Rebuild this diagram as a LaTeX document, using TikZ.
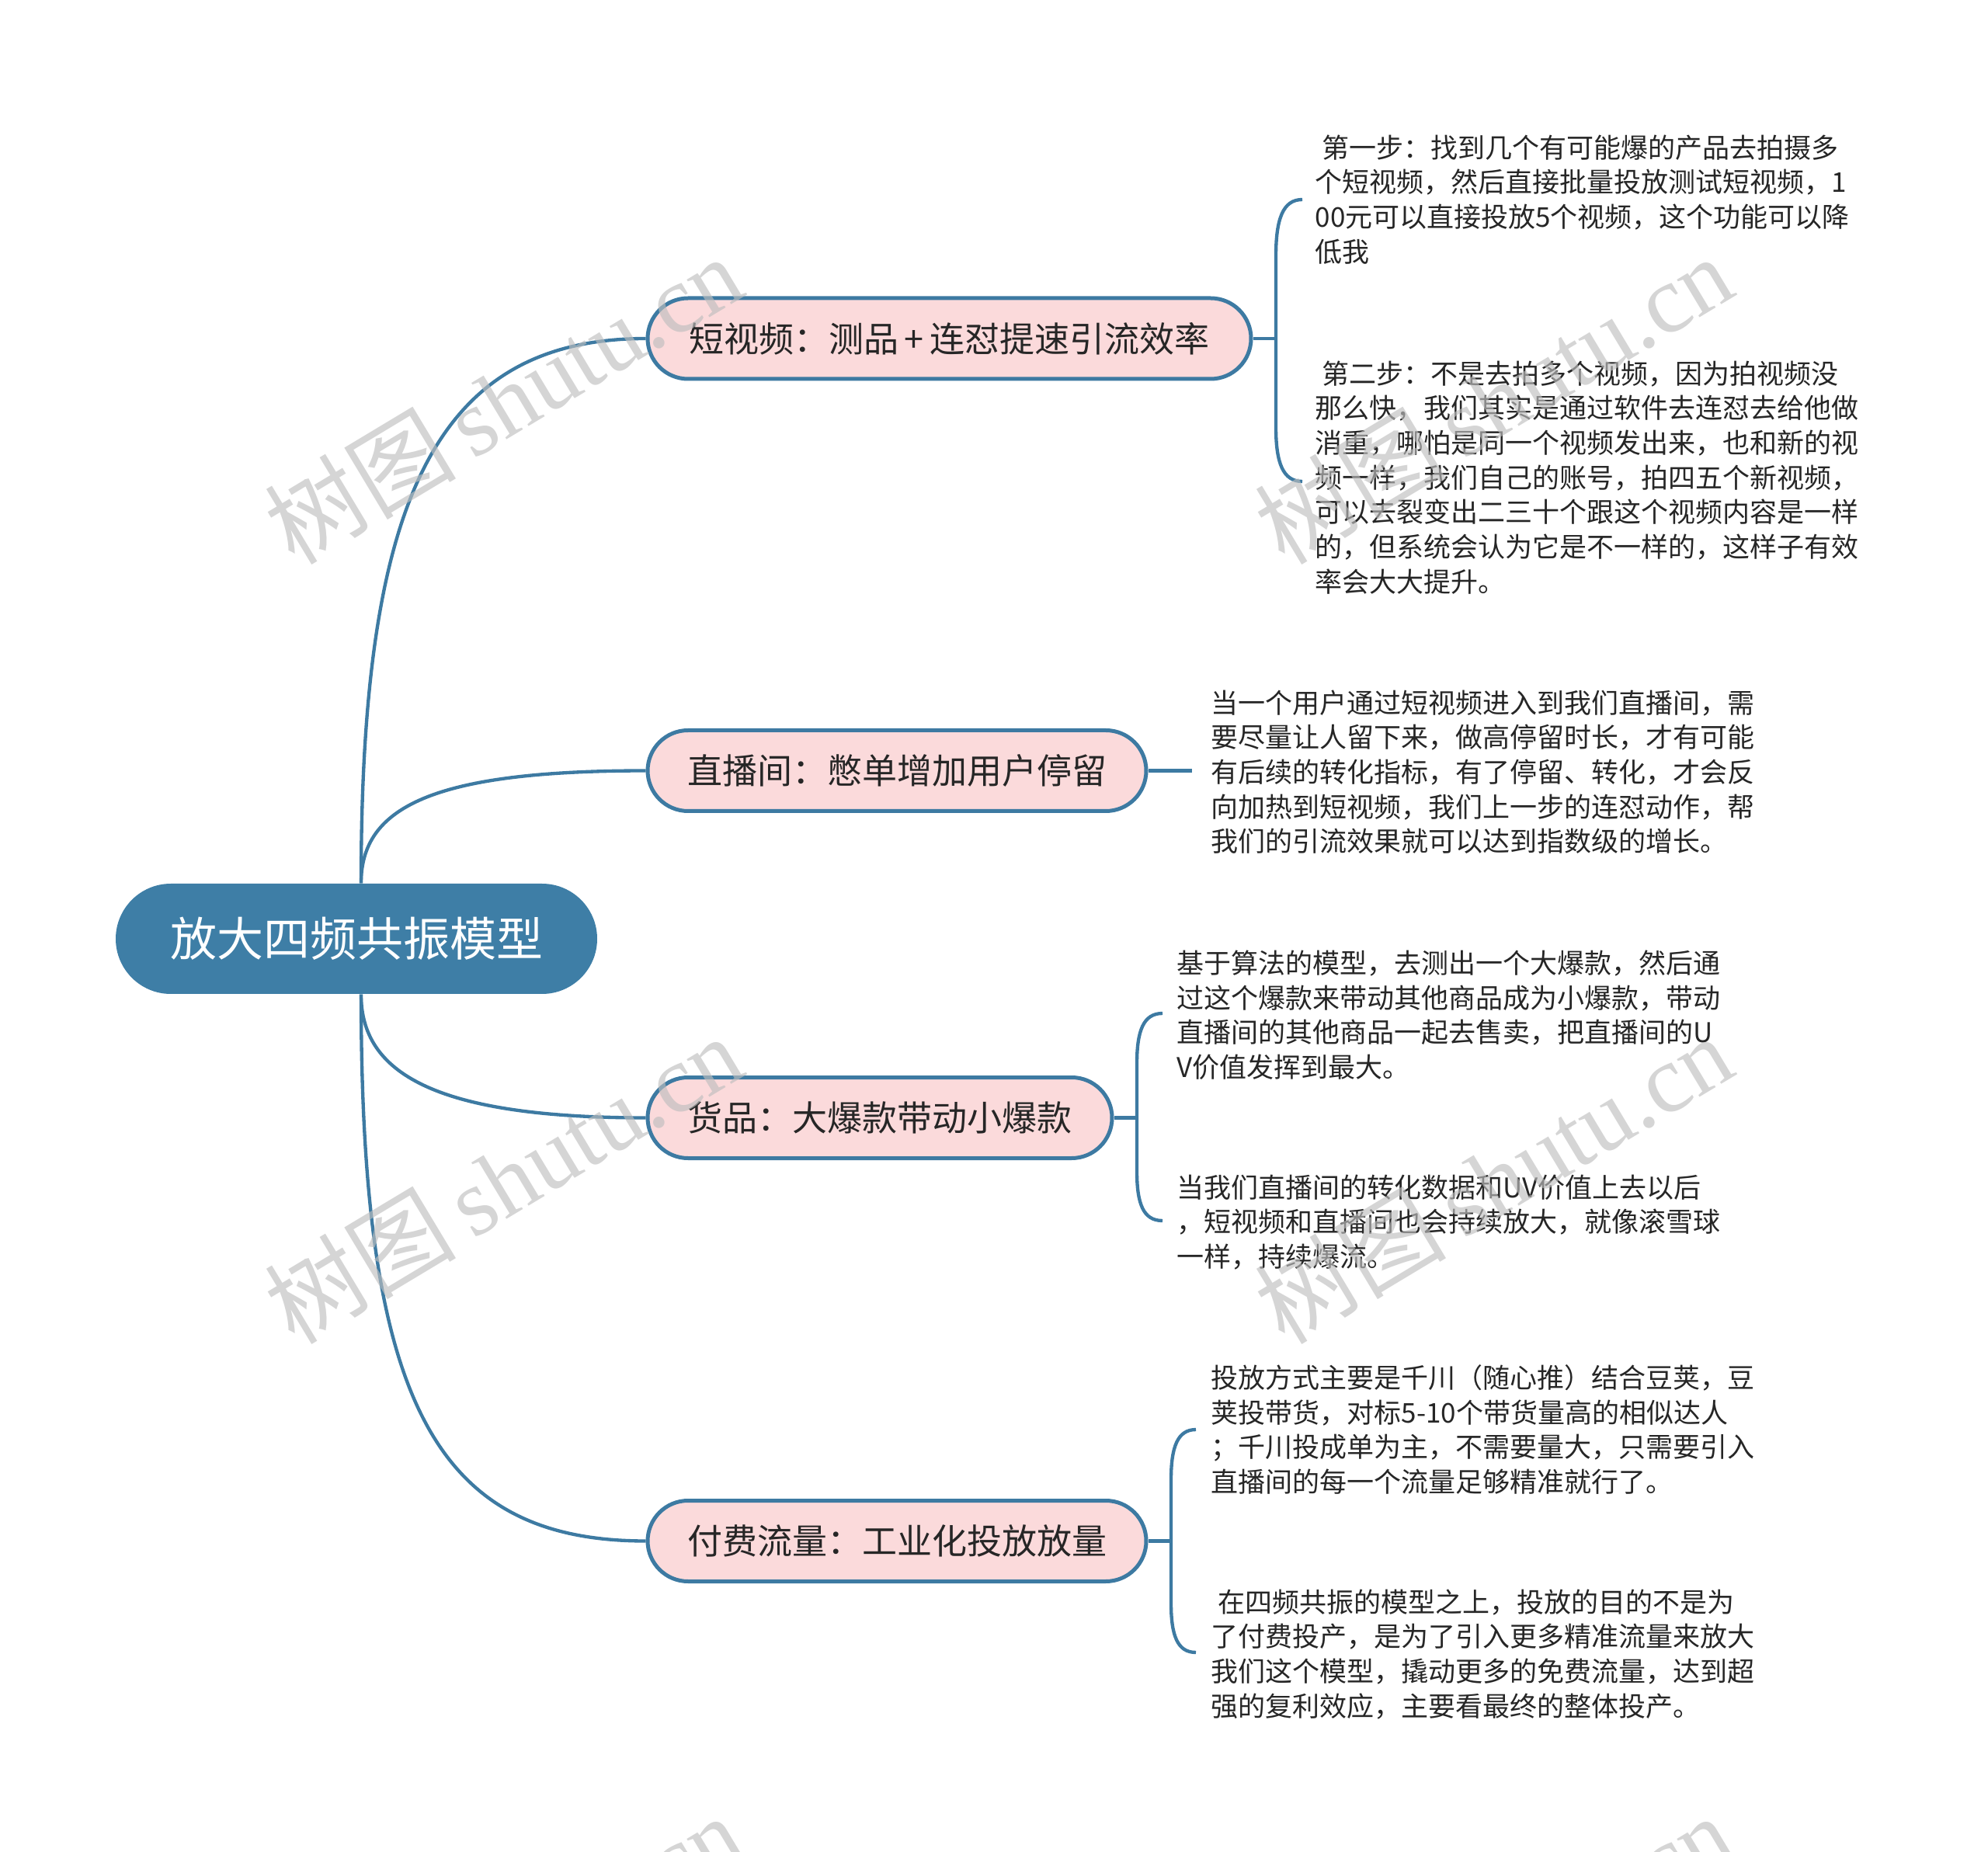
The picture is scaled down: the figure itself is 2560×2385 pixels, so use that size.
\documentclass[tikz,border=0pt]{standalone}
\usepackage{fontspec}
\setmainfont{Noto Sans CJK SC}
\newfontfamily\cjk{Noto Sans CJK SC}
\newfontfamily\wmlatin{Liberation Serif}
\definecolor{linec}{HTML}{3D7AA2}
\definecolor{rootc}{HTML}{3E7EA6}
\definecolor{pinkc}{HTML}{FBDADB}
\definecolor{txtc}{HTML}{262626}
\definecolor{wmc}{HTML}{BEBEBE}
\begin{document}
\begin{tikzpicture}[x=0.3pt,y=-0.3pt,
  conn/.style={draw=linec, line width=1.3pt},
  rootbox/.style={fill=rootc, rounded corners=21.3pt, minimum height=42.6pt, text=white, font=\fontsize{18pt}{20pt}\selectfont, inner sep=0pt},
  topicbox/.style={fill=pinkc, draw=linec, line width=1.5pt, rounded corners=15.6pt, minimum height=31.2pt, font=\fontsize{13.5pt}{15pt}\selectfont, text=txtc, inner sep=0pt},
  notetext/.style={anchor=north west, inner sep=0pt, align=left, font=\fontsize{10.5pt}{13.4pt}\selectfont, text=txtc},
  wm/.style={text=wmc, opacity=0.65, rotate=31, inner sep=0pt, font=\fontsize{37pt}{40pt}\selectfont}
]
\useasboundingbox (0,0) rectangle (2560,2385);
\clip (0,0) rectangle (2560,2385);

% root and topics
\node[rootbox, minimum width=186pt] (root) at (459,1209) {放大四频共振模型};
\node[topicbox, minimum width=233.1pt] (t1) at (1222.5,436) {短视频：测品\,+\,连怼提速引流效率};
\node[topicbox, minimum width=192.6pt] (t2) at (1155,992.5) {直播间：憋单增加用户停留};
\node[topicbox, minimum width=179.4pt] (t3) at (1133,1439.5) {货品：大爆款带动小爆款};
\node[topicbox, minimum width=192.6pt] (t4) at (1155,1984.5) {付费流量：工业化投放放量};

% root connectors
\draw[conn] ([xshift=1.8pt]root.north) .. controls +(0,-488) and +(-274,0) .. (t1.west);
\draw[conn] ([xshift=1.8pt]root.north) .. controls +(0,-98) and +(-274,0) .. (t2.west);
\draw[conn] ([xshift=1.8pt]root.south) .. controls +(0,100) and +(-274,0) .. (t3.west);
\draw[conn] ([xshift=1.8pt]root.south) .. controls +(0,520) and +(-274,0) .. (t4.west);

% notes
\node[notetext] (n1) at (1693,173) {\hspace*{0.25em}第一步：找到几个有可能爆的产品去拍摄多\\个短视频，然后直接批量投放测试短视频，1\\00元可以直接投放5个视频，这个功能可以降\\低我};
\node[notetext] (n2) at (1693,464) {\hspace*{0.25em}第二步：不是去拍多个视频，因为拍视频没\\那么快，我们其实是通过软件去连怼去给他做\\消重，哪怕是同一个视频发出来，也和新的视\\频一样，我们自己的账号，拍四五个新视频，\\可以去裂变出二三十个跟这个视频内容是一样\\的，但系统会认为它是不一样的，这样子有效\\率会大大提升。};
\node[notetext] (n3) at (1559,888) {当一个用户通过短视频进入到我们直播间，需\\要尽量让人留下来，做高停留时长，才有可能\\有后续的转化指标，有了停留、转化，才会反\\向加热到短视频，我们上一步的连怼动作，帮\\我们的引流效果就可以达到指数级的增长。};
\node[notetext] (n4) at (1515,1223) {基于算法的模型，去测出一个大爆款，然后通\\过这个爆款来带动其他商品成为小爆款，带动\\直播间的其他商品一起去售卖，把直播间的U\\V价值发挥到最大。};
\node[notetext] (n5) at (1515,1512) {当我们直播间的转化数据和UV价值上去以后\\，短视频和直播间也会持续放大，就像滚雪球\\一样，持续爆流。};
\node[notetext] (n6) at (1559,1757) {投放方式主要是千川（随心推）结合豆荚，豆\\荚投带货，对标5-10个带货量高的相似达人\\；千川投成单为主，不需要量大，只需要引入\\直播间的每一个流量足够精准就行了。};
\node[notetext] (n7) at (1559,2046) {\hspace*{0.25em}在四频共振的模型之上，投放的目的不是为\\了付费投产，是为了引入更多精准流量来放大\\我们这个模型，撬动更多的免费流量，达到超\\强的复利效应，主要看最终的整体投产。};

% brackets
\coordinate (b1) at (1643,436);
\coordinate (b1t) at (1677,257);
\coordinate (b1b) at (1677,620);
\draw[conn] (t1.east) -- (b1);
\draw[conn] (b1t) .. controls (1652,257) and (1643,282) .. (1643,330) -- (1643,550) .. controls (1643,596) and (1652,620) .. (b1b);

\coordinate (b2) at (1535,992.5);
\draw[conn] (t2.east) -- (b2);

\coordinate (b3) at (1464,1439.5);
\coordinate (b3t) at (1497,1305);
\coordinate (b3b) at (1497,1572);
\draw[conn] (t3.east) -- (b3);
\draw[conn] (b3t) .. controls (1472,1305) and (1464,1328) .. (1464,1370) -- (1464,1508) .. controls (1464,1550) and (1472,1572) .. (b3b);

\coordinate (b4) at (1508,1984.5);
\coordinate (b4t) at (1540,1841);
\coordinate (b4b) at (1540,2128);
\draw[conn] (t4.east) -- (b4);
\draw[conn] (b4t) .. controls (1516,1841) and (1508,1864) .. (1508,1906) -- (1508,2064) .. controls (1508,2106) and (1516,2128) .. (b4b);

% watermarks
\node[wm] (wm1) at (648,514) {\cjk 树图\,\wmlatin shutu.cn};
\node[wm] (wm2) at (1923,514) {\cjk 树图\,\wmlatin shutu.cn};
\node[wm] (wm3) at (648,1518) {\cjk 树图\,\wmlatin shutu.cn};
\node[wm] (wm4) at (1923,1518) {\cjk 树图\,\wmlatin shutu.cn};
\node[wm] (wm5) at (648,2522) {\cjk 树图\,\wmlatin shutu.cn};
\node[wm] (wm6) at (1923,2522) {\cjk 树图\,\wmlatin shutu.cn};
\end{tikzpicture}
\end{document}
